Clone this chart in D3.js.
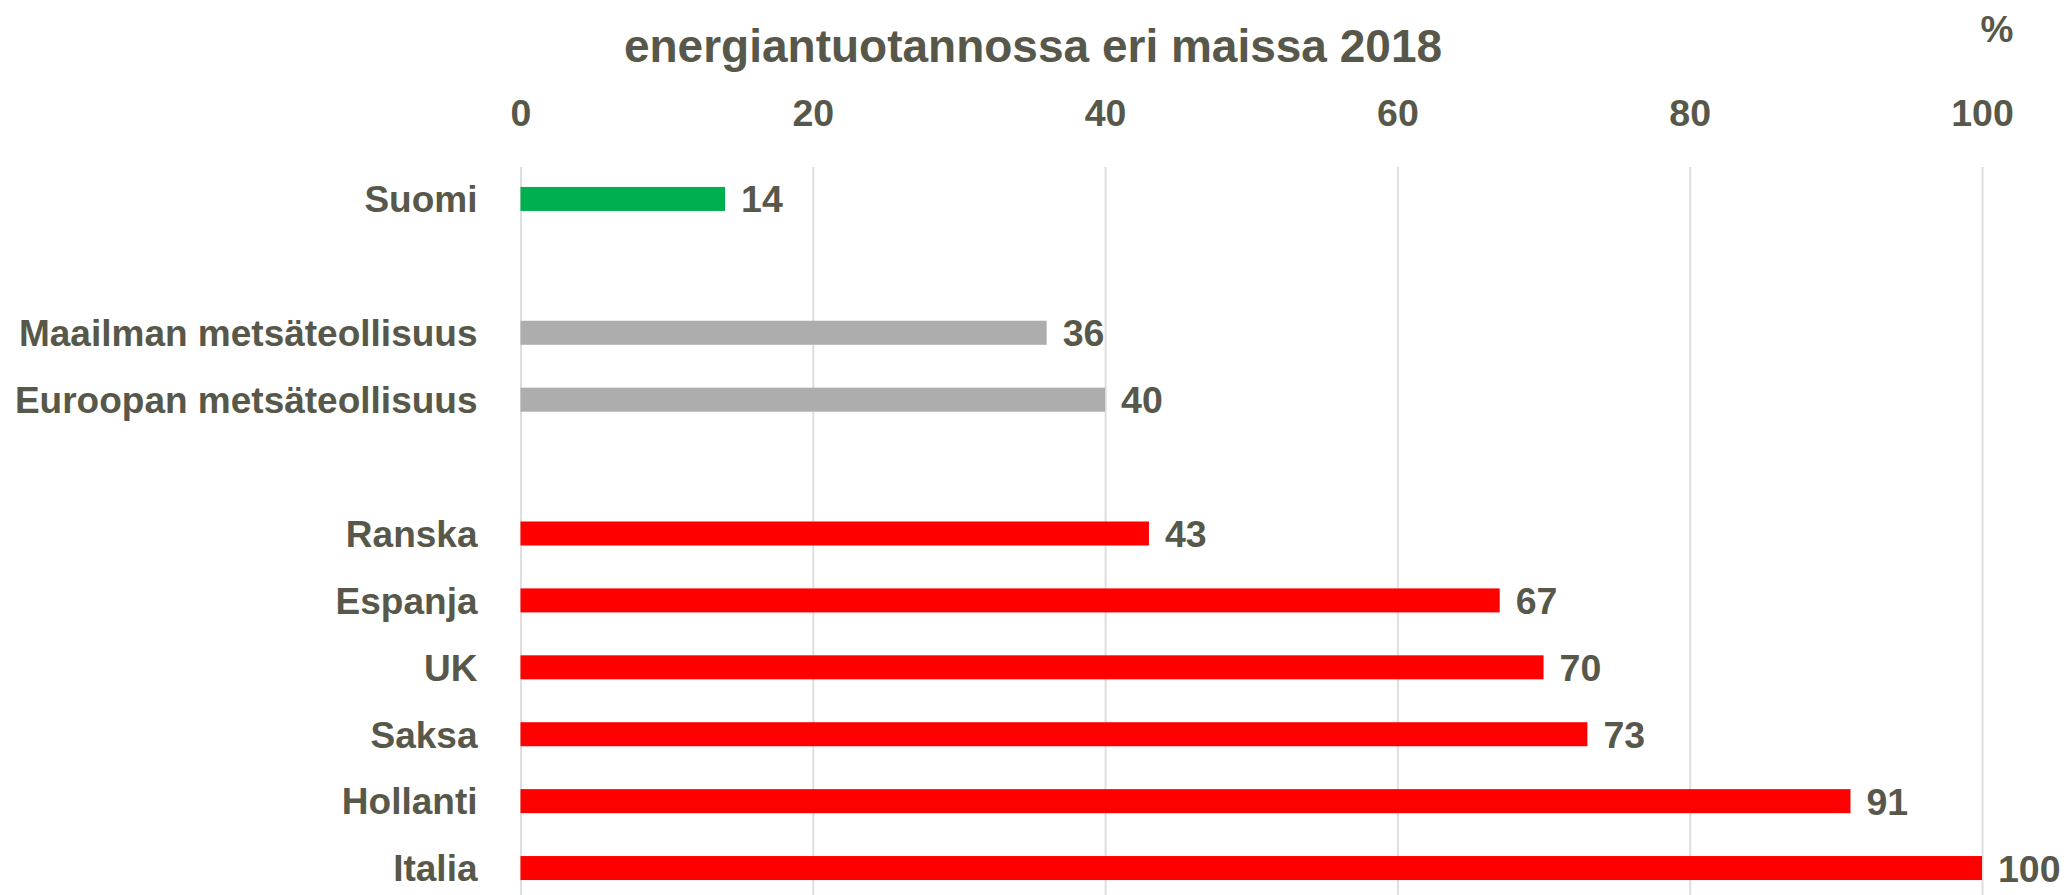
<!DOCTYPE html>
<html>
<head>
<meta charset="utf-8">
<script src="https://cdn.jsdelivr.net/npm/d3@7"></script>
<style>
  body { margin: 0; background: #fff; }
  svg text { font-family: "Liberation Sans", Arial, sans-serif; font-weight: bold; fill: #58584a; }
</style>
</head>
<body>
<div id="chart"></div>
<script>
// chart data
var labels = ["Suomi", "", "Maailman metsäteollisuus", "Euroopan metsäteollisuus", "",
              "Ranska", "Espanja", "UK", "Saksa", "Hollanti", "Italia"];
var values = [14, null, 36, 40, null, 43, 67, 70, 73, 91, 100];
var groups = ["fi", null, "forest", "forest", null, "eu", "eu", "eu", "eu", "eu", "eu"];
var tickValues = [0, 20, 40, 60, 80, 100];
var titleText = "energiantuotannossa eri maissa 2018";
var unitText = "%";

var colors = { fi: "#00b050", forest: "#adadad", eu: "#ff0000" };

var width = 2067, height = 895;

var svg = d3.select("#chart").append("svg")
    .attr("width", width)
    .attr("height", height);

var x = d3.scaleLinear()
    .domain([0, 100])
    .range([520.5, 1982]);

var y = d3.scaleBand()
    .domain(d3.range(labels.length))
    .range([165.5, 901.5])
    .paddingInner(0.641)
    .paddingOuter(0.3205);

// vertical gridlines
svg.append("g")
    .attr("class", "grid")
    .attr("transform", "translate(0,167)")
    .call(d3.axisBottom(x).tickValues(tickValues).tickSize(height - 167).tickFormat(""))
    .call(function(g) { g.select(".domain").remove(); })
    .call(function(g) { g.selectAll("line").attr("stroke", "#dedede").attr("stroke-width", 2); });

// top axis labels
svg.append("g")
    .attr("class", "x axis")
    .attr("transform", "translate(0,112)")
    .call(d3.axisTop(x).tickValues(tickValues).tickSize(0).tickPadding(0))
    .call(function(g) { g.select(".domain").remove(); })
    .call(function(g) {
        g.selectAll("text")
            .attr("dy", "0.36em")
            .style("font-size", "37.5px");
    });

// category labels
svg.append("g")
    .attr("class", "y axis")
    .attr("transform", "translate(520.5,0)")
    .call(d3.axisLeft(y).tickSize(0).tickPadding(43).tickFormat(function(i) { return labels[i]; }))
    .call(function(g) { g.select(".domain").remove(); })
    .call(function(g) {
        g.selectAll("text")
            .attr("dy", "0.36em")
            .style("font-size", "37px");
    });

var rows = values.map(function(v, i) { return { i: i, v: v, g: groups[i] }; })
    .filter(function(d) { return d.v != null; });

// bars
svg.selectAll(".bar")
    .data(rows)
  .enter().append("rect")
    .attr("class", "bar")
    .attr("x", x(0))
    .attr("y", function(d) { return y(d.i); })
    .attr("width", function(d) { return x(d.v) - x(0); })
    .attr("height", y.bandwidth())
    .attr("fill", function(d) { return colors[d.g]; });

// value labels
svg.selectAll(".value")
    .data(rows)
  .enter().append("text")
    .attr("class", "value")
    .attr("x", function(d) { return x(d.v) + 16; })
    .attr("y", function(d) { return y(d.i) + y.bandwidth() / 2; })
    .attr("dy", "0.36em")
    .style("font-size", "37.5px")
    .text(function(d) { return d.v; });

// title (second line; first line is cropped off in the source)
svg.append("text")
    .attr("x", 1033)
    .attr("y", 62)
    .attr("text-anchor", "middle")
    .style("font-size", "46px")
    .text(titleText);

svg.append("text")
    .attr("x", 1997)
    .attr("y", 29)
    .attr("dy", "0.36em")
    .attr("text-anchor", "middle")
    .style("font-size", "37px")
    .text(unitText);
</script>
</body>
</html>
